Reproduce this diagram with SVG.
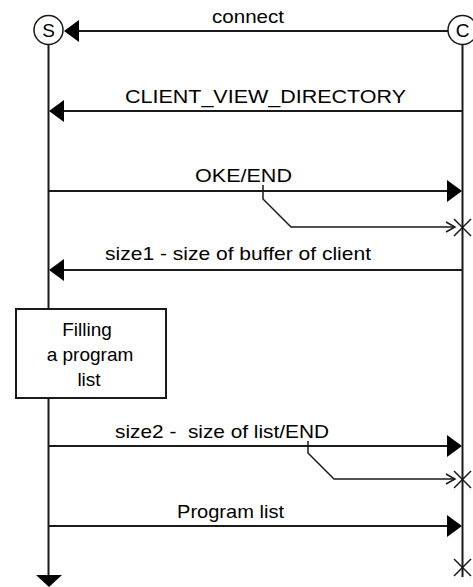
<svg xmlns="http://www.w3.org/2000/svg" width="473" height="587" viewBox="0 0 473 587">
<style>
.ln{stroke:#1a1a1a;stroke-width:2;fill:none}
.thin{stroke:#1a1a1a;stroke-width:1.5;fill:none}
.box{stroke:#1a1a1a;stroke-width:2;fill:#fff}
.circ{stroke:#1a1a1a;stroke-width:1.5;fill:#fff}
.ah{fill:#000;stroke:none}
text{font-family:"Liberation Sans",Arial,sans-serif;font-size:19px;fill:#000}
.c{text-anchor:middle}
</style>
<rect width="473" height="587" fill="#fff"/>
<g id="server">
<line class="ln" x1="48.5" y1="44" x2="48.5" y2="576"/>
<circle class="circ" cx="48.5" cy="30" r="14.5"/>
<text class="c" x="48.5" y="37">S</text>
<polygon class="ah" points="36,575 62,575 49,587"/>
</g>
<g id="client">
<line class="ln" x1="462.5" y1="44" x2="462.5" y2="577"/>
<circle class="circ" cx="462.5" cy="30" r="14.5"/>
<text class="c" x="462.5" y="37">C</text>
</g>
<g id="process">
<rect class="box" x="16" y="309" width="150" height="89"/>
<text class="c" x="87" y="336">Filling</text>
<text class="c" x="90" y="361">a program</text>
<text class="c" x="89" y="386">list</text>
</g>
<g id="connectors">
<line class="ln" x1="448" y1="31" x2="66" y2="31"/>
<polygon class="ah" points="64,31 79,20 79,42"/>
<text x="212" y="23" textLength="72" lengthAdjust="spacingAndGlyphs">connect</text>

<line class="ln" x1="462" y1="111" x2="50" y2="111"/>
<polygon class="ah" points="49,111 64,100 64,122"/>
<text x="125" y="103" textLength="281" lengthAdjust="spacingAndGlyphs">CLIENT_VIEW_DIRECTORY</text>

<line class="ln" x1="49" y1="191" x2="460" y2="191"/>
<polygon class="ah" points="462,191 447,180 447,202"/>
<text x="195" y="182" textLength="97" lengthAdjust="spacingAndGlyphs">OKE/END</text>
<polyline class="thin" points="263,185 263,199 291,227 455,227"/>
<polyline class="thin" points="446,222 455,227 446,232"/>
<path class="thin" d="M454,219 L471,236 M454,236 L471,219"/>

<line class="ln" x1="462" y1="270" x2="50" y2="270"/>
<polygon class="ah" points="49,270 64,259 64,281"/>
<text x="105" y="260" textLength="266" lengthAdjust="spacingAndGlyphs">size1 - size of buffer of client</text>

<line class="ln" x1="49" y1="446" x2="460" y2="446"/>
<polygon class="ah" points="462,446 447,435 447,457"/>
<text x="115" y="438" textLength="214" lengthAdjust="spacingAndGlyphs" xml:space="preserve">size2 -  size of list/END</text>
<polyline class="thin" points="308,441 308,453 334,479 455,479"/>
<polyline class="thin" points="446,474 455,479 446,484"/>
<path class="thin" d="M454,471 L471,488 M454,488 L471,471"/>

<line class="ln" x1="49" y1="526" x2="460" y2="526"/>
<polygon class="ah" points="462,526 447,515 447,537"/>
<text x="177" y="518" textLength="107" lengthAdjust="spacingAndGlyphs">Program list</text>

<path class="thin" d="M454,559 L471,576 M454,576 L471,559"/>
</g>
</svg>
